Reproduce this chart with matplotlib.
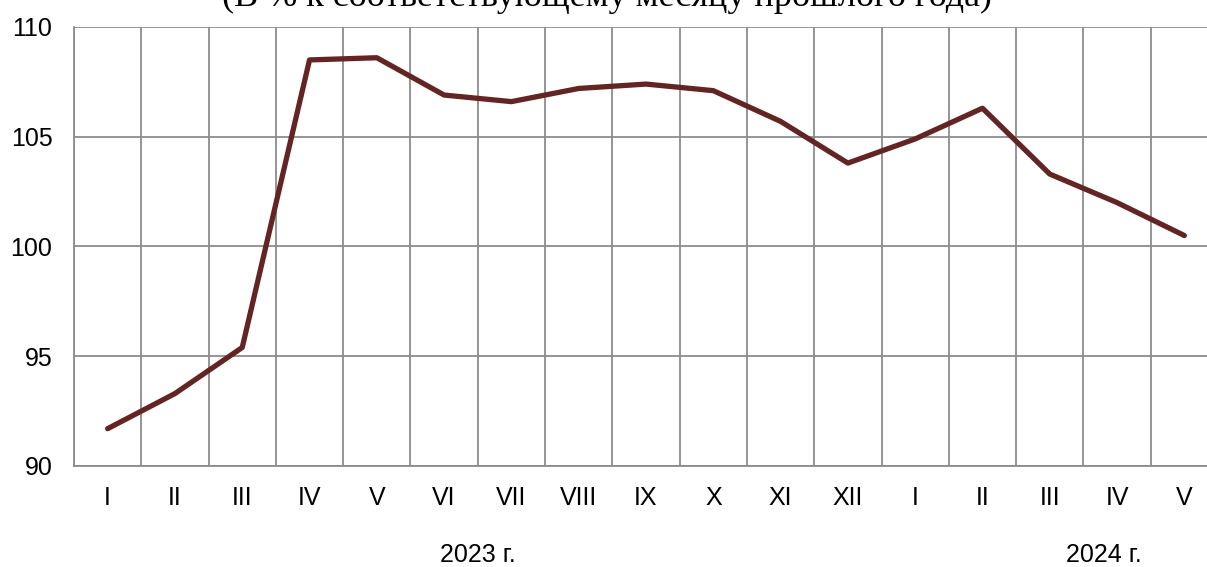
import matplotlib
matplotlib.use('Agg')
import matplotlib.pyplot as plt
import matplotlib.ticker as ticker

months = ['I', 'II', 'III', 'IV', 'V', 'VI', 'VII', 'VIII', 'IX', 'X', 'XI', 'XII',
          'I', 'II', 'III', 'IV', 'V']
values = [91.7, 93.3, 95.4, 108.5, 108.6, 106.9, 106.6, 107.2, 107.4, 107.1, 105.7, 103.8,
          104.9, 106.3, 103.3, 102.0, 100.5]
years = ['2023 г.', '2024 г.']
year_pos = [5.5, 14.8]
title = '(В % к соответствующему месяцу прошлого года)'

W, H = 1207, 567
fig = plt.figure(figsize=(W / 100, H / 100), dpi=100)
# plot area runs past the right edge of the picture, as in the original
ax = fig.add_axes([74 / W, 1 - 466 / H, (1218 - 74) / W, (466 - 27) / H])

x = list(range(len(months)))
ax.plot(x, values, color='#632523', linewidth=3.8, solid_capstyle='round',
        solid_joinstyle='round', zorder=3)

ax.set_xlim(-0.5, len(months) - 0.5)
ax.set_ylim(90, 110)
ax.set_yticks([90, 95, 100, 105, 110])
ax.set_xticks(x)
ax.set_xticklabels(months)
ax.xaxis.set_minor_locator(ticker.FixedLocator([i + 0.5 for i in range(-1, len(months))]))

grid_color = '#8c8c8c'
ax.grid(True, which='minor', axis='x', color=grid_color, linewidth=1.3)
ax.grid(True, which='major', axis='y', color=grid_color, linewidth=1.3)
ax.tick_params(which='both', length=0)
ax.tick_params(axis='y', pad=15.5)
ax.tick_params(axis='x', pad=14.5)
for s in ['top', 'right']:
    ax.spines[s].set_visible(False)
for s in ['left', 'bottom']:
    ax.spines[s].set_color(grid_color)
    ax.spines[s].set_linewidth(1.3)

for lab in ax.get_xticklabels() + ax.get_yticklabels():
    lab.set_fontfamily('Liberation Sans')
    lab.set_fontsize(18)

for yr, xp in zip(years, year_pos):
    ax.text(xp, -0.202, yr, transform=ax.get_xaxis_transform(), ha='center', va='center',
            fontsize=18, family='Liberation Sans')

fig.text(607 / W, 1 - 6 / H, title, ha='center', va='baseline', fontsize=26,
         family='Liberation Serif')

fig.savefig('out.png', dpi=100)
